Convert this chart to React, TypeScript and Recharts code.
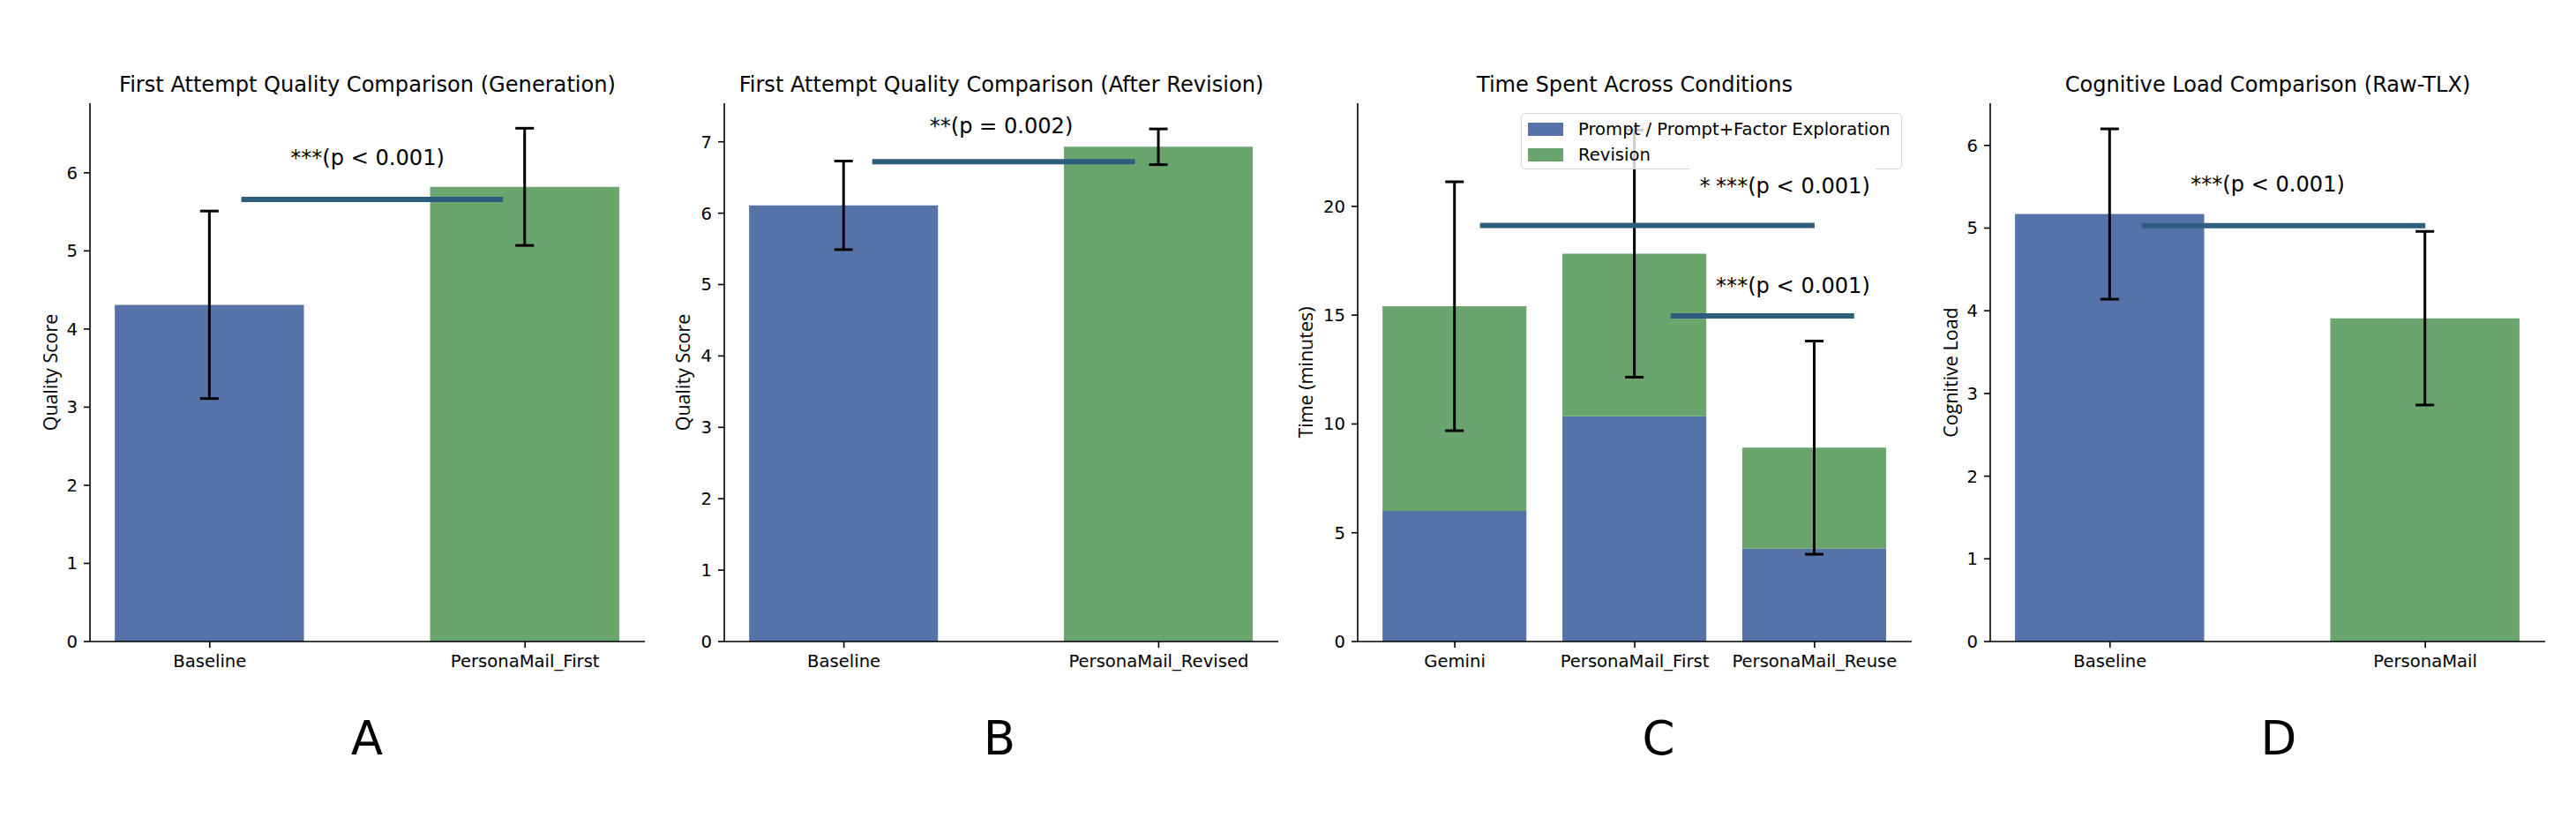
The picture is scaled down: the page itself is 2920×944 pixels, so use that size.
import React from "react";
import {
  BarChart,
  Bar,
  XAxis,
  YAxis,
  ErrorBar,
  ReferenceLine,
  ReferenceDot,
  Legend,
} from "recharts";

// ---- data ----
const genCategories = ["Baseline", "PersonaMail_First"];
const genMeans = [4.31, 5.82];
const genErrors = [1.2, 0.75];

const revCategories = ["Baseline", "PersonaMail_Revised"];
const revMeans = [6.11, 6.93];
const revErrors = [0.62, 0.25];

const timeCategories = ["Gemini", "PersonaMail_First", "PersonaMail_Reuse"];
const timePrompt = [6.0, 10.35, 4.27];
const timeRevision = [9.41, 7.48, 4.64];
const timeErrors = [5.72, 5.68, 4.9];

const loadCategories = ["Baseline", "PersonaMail"];
const loadMeans = [5.17, 3.91];
const loadErrors = [1.03, 1.05];

const genTicks = [0, 1, 2, 3, 4, 5, 6];
const revTicks = [0, 1, 2, 3, 4, 5, 6, 7];
const timeTicks = [0, 5, 10, 15, 20];
const loadTicks = [0, 1, 2, 3, 4, 5, 6];

// significance brackets and their labels
const genSigLines = [{ x1: 0.1, x2: 0.93, y: 5.66 }];
const genSigTexts = [{ x: 0.5, y: 6.2, text: "***(p < 0.001)" }];
const revSigLines = [{ x1: 0.09, x2: 0.925, y: 6.72 }];
const revSigTexts = [{ x: 0.5, y: 7.22, text: "**(p = 0.002)" }];
const timeSigLines = [
  { x1: 0.14, x2: 2.0, y: 19.12 },
  { x1: 1.2, x2: 2.22, y: 14.97 },
];
const timeSigTexts = [
  { x: 1.39, y: 20.96, text: "*" },
  { x: 1.88, y: 20.96, text: "***(p < 0.001)" },
  { x: 1.88, y: 16.36, text: "***(p < 0.001)" },
];
const loadSigLines = [{ x1: 0.1, x2: 1.0, y: 5.03 }];
const loadSigTexts = [{ x: 0.5, y: 5.53, text: "***(p < 0.001)" }];

// ---- styling ----
const BLUE = "#5573a8";
const GREEN = "#6aa56e";
const SIG = "#2e5e7e";
const FONT = "DejaVu Sans";
const TICK_FS = 19.6;
const TEXT_FS = 24.1;
const PLOT_TOP = 117;
const PLOT_BOTTOM = 727;
const PAGE_H = 944;

type Series = { key: string; name: string; color: string; err?: string; stack?: string };

type PanelProps = {
  axisX: number;
  plotWidth: number;
  title: string;
  letter: string;
  letterX: number;
  yLabel: string;
  yLabelOffset: number;
  categories: string[];
  rows: Record<string, number | undefined>[];
  series: Series[];
  barWidth: number; // in category units
  yMax: number;
  yTicks: number[];
  sigLines: { x1: number; x2: number; y: number }[];
  sigTexts: { x: number; y: number; text: string }[];
  legend?: boolean;
};

function LegendBox({ payload }: any) {
  return (
    <div
      style={{
        position: "relative",
        width: 432,
        height: 64,
        border: "1.5px solid #d4d4d4",
        borderRadius: 5,
        background: "rgba(255,255,255,0.8)",
        boxSizing: "border-box",
        fontFamily: FONT,
        fontSize: TICK_FS,
        color: "#000",
        textAlign: "left",
      }}
    >
      {(payload || []).map((p: any, i: number) => (
        <div
          key={p.value}
          style={{
            position: "absolute",
            left: 7,
            top: 5 + i * 29,
            height: 24,
            display: "flex",
            alignItems: "center",
            whiteSpace: "nowrap",
          }}
        >
          <span style={{ width: 40, height: 15, background: p.color, display: "inline-block" }} />
          <span style={{ marginLeft: 17 }}>{p.value}</span>
        </div>
      ))}
      {/* white box of the annotation text sits over the frame */}
      <div
        style={{
          position: "absolute",
          left: 190,
          width: 211,
          bottom: -3,
          height: 5,
          background: "#fff",
        }}
      />
    </div>
  );
}

function Panel(props: PanelProps) {
  const {
    axisX,
    plotWidth,
    title,
    letter,
    letterX,
    yLabel,
    yLabelOffset,
    categories,
    rows,
    series,
    barWidth,
    yMax,
    yTicks,
    sigLines,
    sigTexts,
    legend,
  } = props;
  const n = categories.length;
  const lo = -barWidth / 2;
  const hi = n - 1 + barWidth / 2;
  const pad = (hi - lo) * 0.05;
  const xDomain = [lo - pad, hi + pad];
  const pxPerUnit = plotWidth / (xDomain[1] - xDomain[0]);
  const left = axisX - 100;
  const chartW = plotWidth + 110;
  const tickStyle = { fill: "#000", fontSize: TICK_FS, fontFamily: FONT };
  const axisStyle = { stroke: "#000", strokeWidth: 1.6 };

  return (
    <>
      <div
        style={{
          position: "absolute",
          left: axisX,
          width: plotWidth,
          top: 81,
          height: 30,
          lineHeight: "30px",
          textAlign: "center",
          fontFamily: FONT,
          fontSize: TEXT_FS,
          whiteSpace: "nowrap",
        }}
      >
        {title}
      </div>
      <div
        style={{
          position: "absolute",
          left: letterX - 100,
          width: 200,
          top: 802,
          height: 70,
          lineHeight: "70px",
          textAlign: "center",
          fontFamily: FONT,
          fontSize: 53,
        }}
      >
        {letter}
      </div>
      <div style={{ position: "absolute", left, top: 0 }}>
        <BarChart
          width={chartW}
          height={PAGE_H}
          data={rows}
          margin={{ top: PLOT_TOP, right: 10, left: 40, bottom: PAGE_H - PLOT_BOTTOM - 40 }}
        >
          <XAxis
            type="number"
            scale="linear"
            dataKey="x"
            domain={xDomain}
            allowDataOverflow
            ticks={categories.map((_, i) => i)}
            interval={0}
            tickFormatter={(v: number) => categories[Math.round(v)] ?? ""}
            height={40}
            tickSize={7}
            tickMargin={8}
            tick={tickStyle}
            axisLine={axisStyle}
            tickLine={axisStyle}
          />
          <YAxis
            type="number"
            domain={[0, yMax]}
            ticks={yTicks}
            width={60}
            tickSize={7}
            tickMargin={7}
            tick={tickStyle}
            axisLine={axisStyle}
            tickLine={axisStyle}
            allowDataOverflow
            label={{
              value: yLabel,
              angle: -90,
              position: "insideLeft",
              offset: yLabelOffset,
              style: { textAnchor: "middle", fontFamily: "Open Sans", fontSize: 21.5, fill: "#000" },
            }}
          />
          {series.map((s) => (
            <Bar
              key={s.key}
              dataKey={s.key}
              name={s.name}
              fill={s.color}
              stackId={s.stack}
              barSize={barWidth * pxPerUnit}
              isAnimationActive={false}
            >
              {s.err ? (
                <ErrorBar
                  dataKey={s.err}
                  width={10.5}
                  strokeWidth={3}
                  stroke="#000"
                  isAnimationActive={false}
                />
              ) : null}
            </Bar>
          ))}
          {sigLines.map((l, i) => (
            <ReferenceLine
              key={"l" + i}
              segment={[
                { x: l.x1, y: l.y },
                { x: l.x2, y: l.y },
              ]}
              stroke={SIG}
              strokeWidth={6}
              ifOverflow="visible"
            />
          ))}
          {sigTexts.map((t, i) => (
            <ReferenceDot
              key={"t" + i}
              x={t.x}
              y={t.y}
              r={0}
              fill="none"
              stroke="none"
              ifOverflow="visible"
              label={{
                value: t.text,
                position: "center",
                fill: "#000",
                fontSize: TEXT_FS,
                fontFamily: FONT,
              }}
            />
          ))}
          {legend ? (
            <Legend
              layout="horizontal"
              align="center"
              verticalAlign="middle"
              content={<LegendBox />}
              wrapperStyle={{ position: "absolute", left: 285, top: 128, width: 432, height: 64 }}
            />
          ) : null}
        </BarChart>
      </div>
    </>
  );
}

const genRows = genCategories.map((c, i) => ({ x: i, mean: genMeans[i], err: genErrors[i] }));
const revRows = revCategories.map((c, i) => ({ x: i, mean: revMeans[i], err: revErrors[i] }));
const loadRows = loadCategories.map((c, i) => ({ x: i, mean: loadMeans[i], err: loadErrors[i] }));
const timeRows = timeCategories.map((c, i) => ({
  x: i,
  prompt: timePrompt[i],
  revision: timeRevision[i],
  err: timeErrors[i],
}));

// two bars per chart, one colour each: split the mean into two keyed columns
function withColours(rows: { x: number; mean: number; err: number }[]) {
  return rows.map((r) => ({
    x: r.x,
    a: r.x === 0 ? r.mean : 0,
    b: r.x === 1 ? r.mean : 0,
    errA: r.x === 0 ? r.err : undefined,
    errB: r.x === 1 ? r.err : undefined,
  }));
}

const twoColourSeries: Series[] = [
  { key: "a", name: "a", color: BLUE, err: "errA", stack: "s" },
  { key: "b", name: "b", color: GREEN, err: "errB", stack: "s" },
];

export default function App() {
  return (
    <div
      style={{
        position: "relative",
        width: 2920,
        height: PAGE_H,
        background: "#fff",
        overflow: "hidden",
        margin: -8,
      }}
    >
      <Panel
        axisX={102}
        plotWidth={629}
        title="First Attempt Quality Comparison (Generation)"
        letter="A"
        letterX={416}
        yLabel="Quality Score"
        yLabelOffset={15}
        categories={genCategories}
        rows={withColours(genRows)}
        series={twoColourSeries}
        barWidth={0.6}
        yMax={6.89}
        yTicks={genTicks}
        sigLines={genSigLines}
        sigTexts={genSigTexts}
      />
      <Panel
        axisX={821}
        plotWidth={628}
        title="First Attempt Quality Comparison (After Revision)"
        letter="B"
        letterX={1133}
        yLabel="Quality Score"
        yLabelOffset={13.5}
        categories={revCategories}
        rows={withColours(revRows)}
        series={twoColourSeries}
        barWidth={0.6}
        yMax={7.54}
        yTicks={revTicks}
        sigLines={revSigLines}
        sigTexts={revSigTexts}
      />
      <Panel
        axisX={1539}
        plotWidth={628}
        title="Time Spent Across Conditions"
        letter="C"
        letterX={1880}
        yLabel="Time (minutes)"
        yLabelOffset={1}
        categories={timeCategories}
        rows={timeRows}
        series={[
          { key: "prompt", name: "Prompt / Prompt+Factor Exploration", color: BLUE, stack: "t" },
          { key: "revision", name: "Revision", color: GREEN, err: "err", stack: "t" },
        ]}
        barWidth={0.8}
        yMax={24.74}
        yTicks={timeTicks}
        sigLines={timeSigLines}
        sigTexts={timeSigTexts}
        legend
      />
      <Panel
        axisX={2256}
        plotWidth={629}
        title="Cognitive Load Comparison (Raw-TLX)"
        letter="D"
        letterX={2583}
        yLabel="Cognitive Load"
        yLabelOffset={15}
        categories={loadCategories}
        rows={withColours(loadRows)}
        series={twoColourSeries}
        barWidth={0.6}
        yMax={6.51}
        yTicks={loadTicks}
        sigLines={loadSigLines}
        sigTexts={loadSigTexts}
      />
    </div>
  );
}
